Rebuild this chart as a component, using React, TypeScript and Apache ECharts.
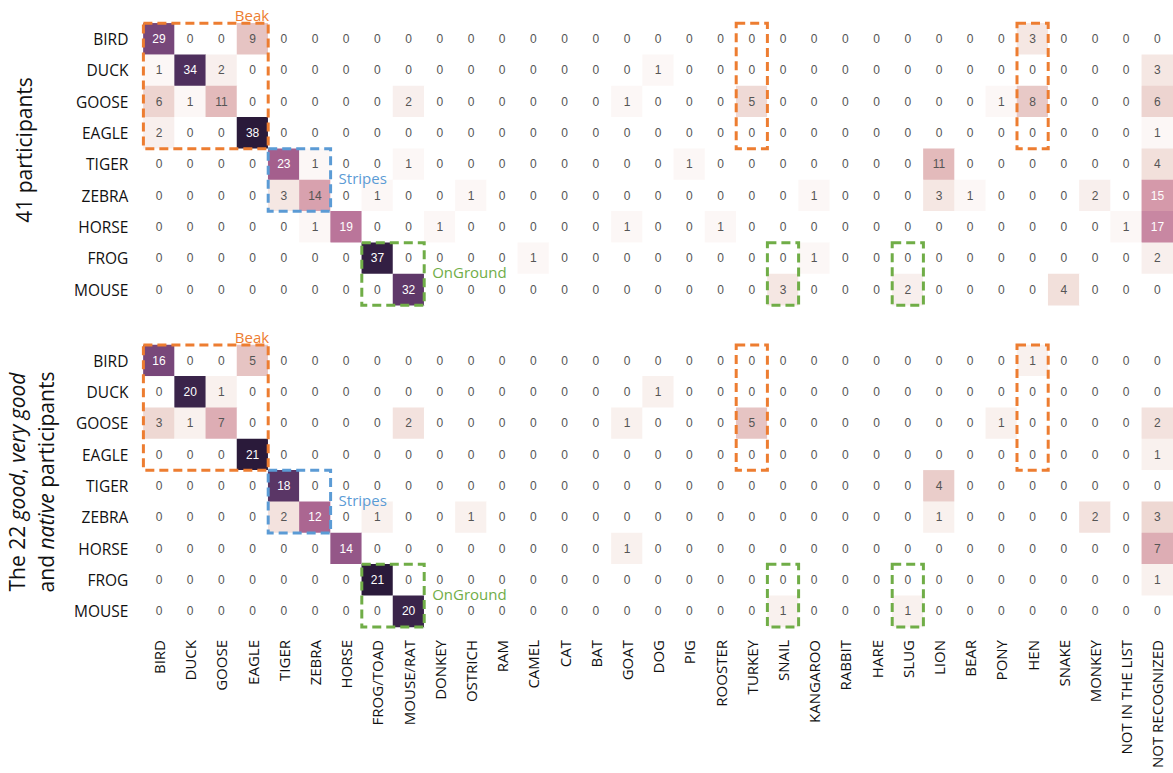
import React, { useEffect, useRef } from "react";
import * as echarts from "echarts";

const ROWS = ["BIRD", "DUCK", "GOOSE", "EAGLE", "TIGER", "ZEBRA", "HORSE", "FROG", "MOUSE"];
const COLS = [
  "BIRD", "DUCK", "GOOSE", "EAGLE", "TIGER", "ZEBRA", "HORSE", "FROG/TOAD", "MOUSE/RAT",
  "DONKEY", "OSTRICH", "RAM", "CAMEL", "CAT", "BAT", "GOAT", "DOG", "PIG", "ROOSTER",
  "TURKEY", "SNAIL", "KANGAROO", "RABBIT", "HARE", "SLUG", "LION", "BEAR", "PONY", "HEN",
  "SNAKE", "MONKEY", "NOT IN THE LIST", "NOT RECOGNIZED",
];

// 41 participants
const ALL_BIRD = [29,0,0,9,0,0,0,0,0, 0,0,0,0,0,0,0,0,0,0,0, 0,0,0,0,0,0,0,0,3,0,0,0,0];
const ALL_DUCK = [1,34,2,0,0,0,0,0,0, 0,0,0,0,0,0,0,1,0,0,0, 0,0,0,0,0,0,0,0,0,0,0,0,3];
const ALL_GOOSE = [6,1,11,0,0,0,0,0,2, 0,0,0,0,0,0,1,0,0,0,5, 0,0,0,0,0,0,0,1,8,0,0,0,6];
const ALL_EAGLE = [2,0,0,38,0,0,0,0,0, 0,0,0,0,0,0,0,0,0,0,0, 0,0,0,0,0,0,0,0,0,0,0,0,1];
const ALL_TIGER = [0,0,0,0,23,1,0,0,1, 0,0,0,0,0,0,0,0,1,0,0, 0,0,0,0,0,11,0,0,0,0,0,0,4];
const ALL_ZEBRA = [0,0,0,0,3,14,0,1,0, 0,1,0,0,0,0,0,0,0,0,0, 0,1,0,0,0,3,1,0,0,0,2,0,15];
const ALL_HORSE = [0,0,0,0,0,1,19,0,0, 1,0,0,0,0,0,1,0,0,1,0, 0,0,0,0,0,0,0,0,0,0,0,1,17];
const ALL_FROG = [0,0,0,0,0,0,0,37,0, 0,0,0,1,0,0,0,0,0,0,0, 0,1,0,0,0,0,0,0,0,0,0,0,2];
const ALL_MOUSE = [0,0,0,0,0,0,0,0,32, 0,0,0,0,0,0,0,0,0,0,0, 3,0,0,0,2,0,0,0,0,4,0,0,0];

// The 22 good, very good and native participants
const GOOD_BIRD = [16,0,0,5,0,0,0,0,0, 0,0,0,0,0,0,0,0,0,0,0, 0,0,0,0,0,0,0,0,1,0,0,0,0];
const GOOD_DUCK = [0,20,1,0,0,0,0,0,0, 0,0,0,0,0,0,0,1,0,0,0, 0,0,0,0,0,0,0,0,0,0,0,0,0];
const GOOD_GOOSE = [3,1,7,0,0,0,0,0,2, 0,0,0,0,0,0,1,0,0,0,5, 0,0,0,0,0,0,0,1,0,0,0,0,2];
const GOOD_EAGLE = [0,0,0,21,0,0,0,0,0, 0,0,0,0,0,0,0,0,0,0,0, 0,0,0,0,0,0,0,0,0,0,0,0,1];
const GOOD_TIGER = [0,0,0,0,18,0,0,0,0, 0,0,0,0,0,0,0,0,0,0,0, 0,0,0,0,0,4,0,0,0,0,0,0,0];
const GOOD_ZEBRA = [0,0,0,0,2,12,0,1,0, 0,1,0,0,0,0,0,0,0,0,0, 0,0,0,0,0,1,0,0,0,0,2,0,3];
const GOOD_HORSE = [0,0,0,0,0,0,14,0,0, 0,0,0,0,0,0,1,0,0,0,0, 0,0,0,0,0,0,0,0,0,0,0,0,7];
const GOOD_FROG = [0,0,0,0,0,0,0,21,0, 0,0,0,0,0,0,0,0,0,0,0, 0,0,0,0,0,0,0,0,0,0,0,0,1];
const GOOD_MOUSE = [0,0,0,0,0,0,0,0,20, 0,0,0,0,0,0,0,0,0,0,0, 1,0,0,0,1,0,0,0,0,0,0,0,0];

const ALL_MATRIX = [ALL_BIRD, ALL_DUCK, ALL_GOOSE, ALL_EAGLE, ALL_TIGER, ALL_ZEBRA, ALL_HORSE, ALL_FROG, ALL_MOUSE];
const GOOD_MATRIX = [GOOD_BIRD, GOOD_DUCK, GOOD_GOOSE, GOOD_EAGLE, GOOD_TIGER, GOOD_ZEBRA, GOOD_HORSE, GOOD_FROG, GOOD_MOUSE];

// annotation boxes: category index ranges
const BOX_LABELS = ["Beak", "", "", "Stripes", "OnGround", "", ""];
const BOX_KINDS = ["orange", "orange", "orange", "blue", "green", "green", "green"];
const BOX_COLS = [[0, 3], [19, 19], [28, 28], [4, 5], [7, 8], [20, 20], [24, 24]];
const BOX_ROWS = [[0, 3], [0, 3], [0, 3], [4, 5], [7, 8], [7, 8], [7, 8]];

const KIND_COLOR: Record<string, string> = { orange: "#ED7D31", blue: "#5B9BD5", green: "#70AD47" };

const CMAP = [
  "#ffffff", "#f2e1dc", "#e9cbc8", "#e2b8ba", "#d497a9", "#ba759a",
  "#a5608d", "#8b5285", "#6c4073", "#4c2e5c", "#2a1a3a",
];

const FONT = "'Open Sans', 'DejaVu Sans', sans-serif";

function buildData(m: number[][]) {
  const max = Math.max(...m.map((r) => Math.max(...r)));
  const data: any[] = [];
  m.forEach((row, r) =>
    row.forEach((v, c) => {
      data.push({
        value: [c, r, v],
        label: { color: v / max >= 0.38 ? "#ffffff" : "#555555" },
      });
    })
  );
  return { data, max };
}

function boxSeries(gridIdx: number) {
  return {
    type: "custom",
    xAxisIndex: gridIdx,
    yAxisIndex: gridIdx,
    z: 5,
    silent: true,
    clip: false,
    encode: { x: 0, y: 1 },
    data: BOX_COLS.map((c, i) => [c[0], BOX_ROWS[i][0], c[1], BOX_ROWS[i][1]]),
    renderItem: (params: any, api: any) => {
      const i = params.dataIndex;
      const p0 = api.coord([api.value(0), api.value(1)]);
      const p1 = api.coord([api.value(2), api.value(3)]);
      const sz = api.size([1, 1]);
      const x = Math.min(p0[0], p1[0]) - sz[0] / 2;
      const y = Math.min(p0[1], p1[1]) - sz[1] / 2;
      const w = Math.abs(p1[0] - p0[0]) + sz[0];
      const h = Math.abs(p1[1] - p0[1]) + sz[1];
      const color = KIND_COLOR[BOX_KINDS[i]];
      const children: any[] = [
        {
          type: "rect",
          shape: { x, y, width: w, height: h },
          style: { fill: "none", stroke: color, lineWidth: 3, lineDash: [9, 5] },
        },
      ];
      const label = BOX_LABELS[i];
      if (label) {
        const above = i === 0;
        children.push({
          type: "text",
          style: {
            text: label,
            x: above ? x + w + 1 : x + w + 8,
            y: above ? y - 1 : y + h / 2 - 2,
            fill: color,
            font: "15px 'Open Sans'",
            fontSize: 15,
            fontFamily: "Open Sans",
            align: above ? "right" : "left",
            verticalAlign: above ? "bottom" : "middle",
          },
        });
      }
      return { type: "group", children };
    },
  };
}

export default function App() {
  const ref = useRef<HTMLDivElement>(null);
  useEffect(() => {
    if (!ref.current) return;
    const chart = echarts.init(ref.current, undefined, { renderer: "svg" });
    const all = buildData(ALL_MATRIX);
    const good = buildData(GOOD_MATRIX);
    const gridLeft = 143.4;
    const gridWidth = 1032.3;
    const gridHeight = 282;
    const baseX = {
      type: "category",
      data: COLS,
      axisLine: { show: false },
      axisTick: { show: false },
      splitLine: { show: false },
      splitArea: { show: false },
    };
    const baseY = {
      type: "category",
      data: ROWS,
      inverse: true,
      axisLine: { show: false },
      axisTick: { show: false },
      splitLine: { show: false },
      splitArea: { show: false },
      axisLabel: { fontSize: 15.5, fontFamily: FONT, color: "#111", margin: 15 },
    };
    const heat = (idx: number, d: any[]) => ({
      type: "heatmap",
      xAxisIndex: idx,
      yAxisIndex: idx,
      data: d,
      silent: true,
      label: { show: true, fontSize: 12, fontFamily: "'Liberation Sans', Arial, sans-serif", color: "#555" },
      itemStyle: { borderWidth: 0 },
      emphasis: { disabled: true },
    });
    chart.setOption({
      animation: false,
      backgroundColor: "#ffffff",
      grid: [
        { left: gridLeft, top: 23.3, width: gridWidth, height: gridHeight },
        { left: gridLeft, top: 345, width: gridWidth, height: gridHeight },
      ],
      xAxis: [
        { ...baseX, gridIndex: 0, axisLabel: { show: false } },
        {
          ...baseX,
          gridIndex: 1,
          axisLabel: { show: true, rotate: 90, interval: 0, fontSize: 15, fontFamily: FONT, color: "#111", margin: 13 },
        },
      ],
      yAxis: [
        { ...baseY, gridIndex: 0 },
        { ...baseY, gridIndex: 1 },
      ],
      visualMap: [
        { type: "continuous", show: false, seriesIndex: 0, dimension: 2, min: 0, max: all.max, inRange: { color: CMAP } },
        { type: "continuous", show: false, seriesIndex: 1, dimension: 2, min: 0, max: good.max, inRange: { color: CMAP } },
      ],
      series: [heat(0, all.data), heat(1, good.data), boxSeries(0), boxSeries(1)],
      graphic: [
        {
          type: "text",
          x: 24,
          y: 150,
          rotation: Math.PI / 2,
          style: {
            text: "41 participants",
            fontSize: 21,
            fontFamily: FONT,
            fill: "#111",
            align: "center",
            verticalAlign: "middle",
          },
        },
        {
          type: "text",
          x: 31.5,
          y: 482,
          rotation: Math.PI / 2,
          style: {
            text: "The 22 {i|good}, {i|very good}\nand {i|native} participants",
            fontSize: 21,
            fontFamily: FONT,
            fill: "#111",
            lineHeight: 29,
            align: "center",
            verticalAlign: "middle",
            rich: {
              i: { fontStyle: "italic", fontSize: 21, fontFamily: FONT, fill: "#111", lineHeight: 29 },
            },
          },
        },
      ],
    });
    return () => chart.dispose();
  }, []);
  return (
    <div
      ref={ref}
      style={{ position: "fixed", left: 0, top: 0, width: 1173, height: 773, background: "#fff" }}
    />
  );
}
